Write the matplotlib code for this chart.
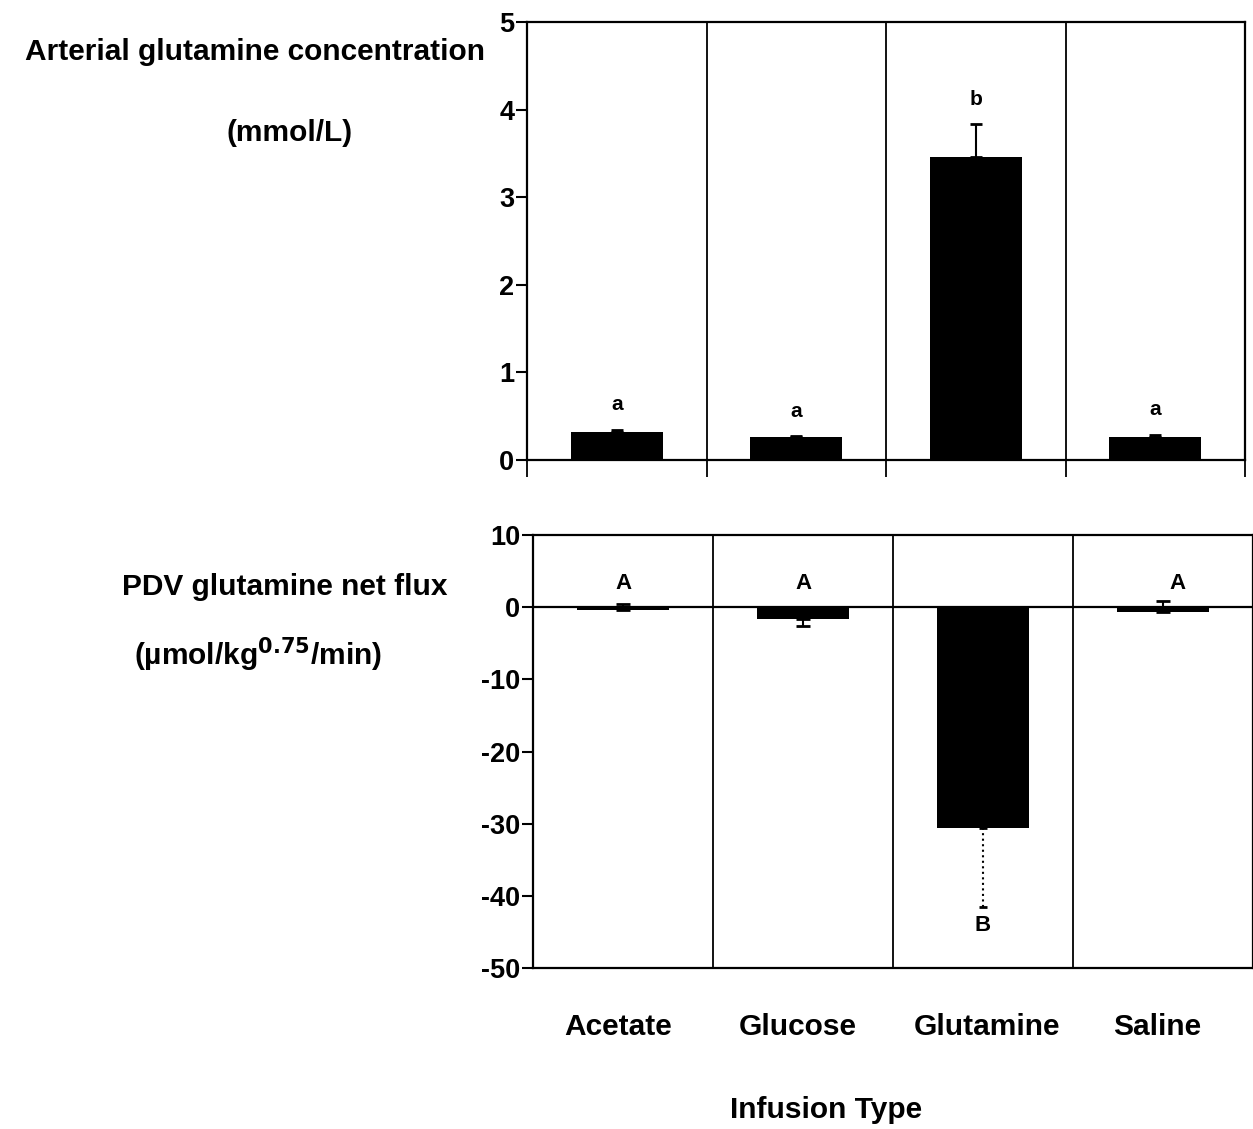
import matplotlib
matplotlib.use("Agg")
import matplotlib.pyplot as plt
import numpy as np

plt.rcParams['font.family'] = ['Liberation Sans', 'DejaVu Sans']
plt.rcParams['font.weight'] = 'bold'
plt.rcParams['axes.unicode_minus'] = False

categories = ["Acetate", "Glucose", "Glutamine", "Saline"]

# Arterial glutamine concentration (mmol/L)
art_mean = [0.32, 0.26, 3.46, 0.26]
art_err = [0.02, 0.01, 0.37, 0.03]
art_letters = ["a", "a", "b", "a"]

# PDV glutamine net flux (umol/kg^0.75/min)
pdv_mean = [-0.4, -1.6, -30.6, -0.7]
pdv_err_low = [0.0, 1.0, 10.9, 0.0]
pdv_err_high = [0.8, 0.0, 0.0, 1.5]
pdv_letters = ["A", "A", "B", "A"]

W, H = 1253, 1129
fig = plt.figure(figsize=(W / 100, H / 100), dpi=100)

def frac(x0, y0, x1, y1):
    return [x0 / W, 1 - y1 / H, (x1 - x0) / W, (y1 - y0) / H]

x = np.arange(len(categories))
bar_w = 0.51
tick_fs = 19.5

# ---- top panel ----
ax1 = fig.add_axes(frac(527, 22, 1245, 460))
ax1.bar(x, art_mean, width=bar_w, color="black", zorder=3)
ax1.errorbar(x, art_mean, yerr=[np.zeros(4), art_err], fmt="none",
             ecolor="black", elinewidth=1.5, capsize=4, capthick=2, zorder=4)
for xi, m, e, lab in zip(x, art_mean, art_err, art_letters):
    ax1.text(xi, m + e + 0.18, lab, ha="center", va="bottom",
             fontsize=15, fontweight="bold")
ax1.set_xlim(-0.5, 3.5)
ax1.set_ylim(0, 5)
ax1.set_yticks([0, 1, 2, 3, 4, 5])
ax1.set_xticks([-0.5, 0.5, 1.5, 2.5, 3.5])
ax1.set_xticklabels([])
ax1.tick_params(axis="x", direction="out", length=12, width=1.3)
ax1.tick_params(axis="y", direction="out", length=8, width=1.5, pad=1,
                labelsize=tick_fs)
for b in [0.5, 1.5, 2.5]:
    ax1.axvline(b, color="black", lw=1.3, zorder=1)
for s in ax1.spines.values():
    s.set_linewidth(1.6)

# ---- bottom panel ----
ax2 = fig.add_axes(frac(533, 535, 1253, 968))
ax2.bar(x, pdv_mean, width=bar_w, color="black", zorder=3)
ax2.errorbar(x[[0, 1, 3]], np.array(pdv_mean)[[0, 1, 3]],
             yerr=[np.array(pdv_err_low)[[0, 1, 3]],
                   np.array(pdv_err_high)[[0, 1, 3]]],
             fmt="none", ecolor="black", elinewidth=1.5, capsize=5,
             capthick=2, zorder=4)
eb = ax2.errorbar([x[2]], [pdv_mean[2]],
                  yerr=[[pdv_err_low[2]], [pdv_err_high[2]]],
                  fmt="none", ecolor="black", elinewidth=1.5, capsize=3,
                  capthick=2, zorder=4)
eb[2][0].set_linestyle(":")
ax2.axhline(0, color="black", lw=1.6, zorder=2)
letter_y = [1.8, 1.8, None, 1.8]
for xi, lab, ly in zip(x, pdv_letters, letter_y):
    if ly is None:
        ly = pdv_mean[2] - pdv_err_low[2] - 1.2
        ax2.text(xi, ly, lab, ha="center", va="top", fontsize=16,
                 fontweight="bold")
    else:
        dx = 0.08 if xi == 3 else 0.0
        ax2.text(xi + dx, ly, lab, ha="center", va="bottom", fontsize=16,
                 fontweight="bold")
ax2.set_xlim(-0.5, 3.5)
ax2.set_ylim(-50, 10)
ax2.set_yticks([10, 0, -10, -20, -30, -40, -50])
ax2.set_xticks([])
ax2.tick_params(axis="y", direction="out", length=8, width=1.5, pad=1,
                labelsize=tick_fs)
for b in [0.5, 1.5, 2.5]:
    ax2.axvline(b, color="black", lw=1.3, zorder=1)
for s in ax2.spines.values():
    s.set_linewidth(1.6)

# ---- axis titles and category names ----
lab_fs = 21.5
fig.text(255 / W, 1 - 52 / H, "Arterial glutamine concentration",
         ha="center", va="center", fontsize=lab_fs, fontweight="bold")
fig.text(290 / W, 1 - 133 / H, "(mmol/L)",
         ha="center", va="center", fontsize=lab_fs, fontweight="bold")
fig.text(285 / W, 1 - 587 / H, "PDV glutamine net flux",
         ha="center", va="center", fontsize=lab_fs, fontweight="bold")
fig.text(258 / W, 1 - 655 / H, r"(µmol/kg$^{\mathrm{0.75}}$/min)",
         ha="center", va="center", fontsize=lab_fs, fontweight="bold")

cat_px = [618, 798, 987, 1157]
for cx, name in zip(cat_px, categories):
    fig.text(cx / W, 1 - 1027 / H, name, ha="center", va="center",
             fontsize=lab_fs, fontweight="bold")
fig.text(826 / W, 1 - 1110 / H, "Infusion Type", ha="center", va="center",
         fontsize=lab_fs, fontweight="bold")

fig.savefig("out.png", dpi=100, facecolor="white")
